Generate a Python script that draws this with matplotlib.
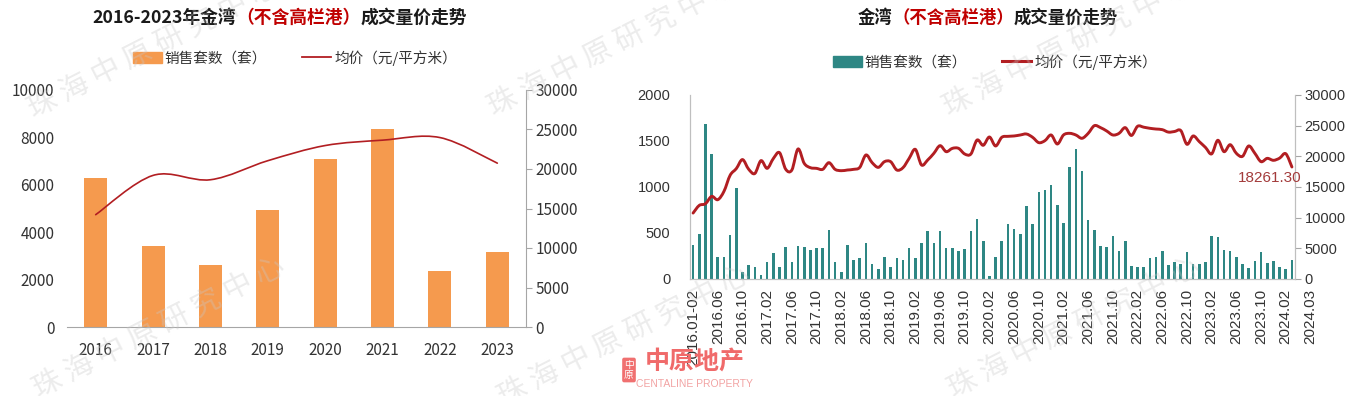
import matplotlib
matplotlib.use('Agg')
import matplotlib.pyplot as plt
import numpy as np
from matplotlib.path import Path
from matplotlib.patches import PathPatch, Patch
from matplotlib.lines import Line2D
from matplotlib.offsetbox import TextArea, HPacker, AnchoredOffsetbox

plt.rcParams['font.family'] = ['Liberation Sans', 'Noto Sans CJK SC', 'DejaVu Sans']
CJK = ['Noto Sans CJK SC', 'DejaVu Sans']

# ---- 年度数据 ----
years = ['2016', '2017', '2018', '2019', '2020', '2021', '2022', '2023']
annual_units = [6283, 3436, 2623, 4923, 7097, 8345, 2342, 3170]
annual_price = [14220, 19190, 18640, 21050, 22970, 23650, 23980, 20740]

# ---- 月度数据 ----
month_labels = ['2016.01-02'] + ['%d.%02d' % (2016 + (m - 1) // 12, (m - 1) % 12 + 1)
                                 for m in range(3, 8 * 12 + 4)]
month_units = [365, 485, 1685, 1355, 244, 244, 473, 990, 80, 153,
               135, 44, 189, 284, 127, 353, 182, 364, 346, 317,
               335, 335, 528, 182, 80, 375, 211, 226, 393, 164,
               109, 244, 135, 226, 211, 335, 226, 393, 517, 393,
               517, 335, 335, 302, 324, 517, 648, 408, 33, 244,
               408, 593, 546, 491, 790, 593, 946, 972, 1019, 801,
               612, 1212, 1412, 1176, 637, 535, 364, 346, 466, 302,
               411, 138, 135, 135, 226, 244, 302, 157, 189, 164,
               291, 164, 164, 189, 462, 455, 317, 302, 237, 164,
               120, 200, 291, 171, 200, 135, 109, 211]
month_price = [10750, 12000, 12270, 13470, 12930, 14290, 16910, 18000, 19470, 17900,
               17200, 19300, 18040, 19640, 20600, 17900, 17770, 21200, 18860, 18150,
               18040, 17880, 18970, 17880, 17660, 17770, 17880, 18200, 20220, 18970,
               18200, 19130, 19130, 17770, 18150, 19670, 21140, 18590, 19400, 20490,
               21740, 20760, 21300, 21300, 20380, 20380, 22660, 21800, 23150, 21690,
               23100, 23260, 23320, 23480, 23640, 23100, 22230, 22560, 23480, 22010,
               23480, 23750, 23480, 22940, 23750, 25000, 24680, 24130, 23480, 23750,
               24680, 23400, 24900, 24750, 24570, 24450, 24350, 23950, 24050, 24200,
               21960, 23320, 22390, 21450, 20400, 22620, 20760, 21900, 20490, 20000,
               21690, 20490, 19130, 19670, 19350, 19700, 20430, 18261.30]
tick_every = 4
extra_label = '2024.03'

ORANGE = '#F59A4E'
TEAL = '#2E8784'
RED = '#B21E22'


def smooth_line(ax, x, y, **kw):
    # 平滑曲线（Catmull-Rom 转 Bezier）
    x = np.asarray(x, float)
    y = np.asarray(y, float)
    n = len(x)
    verts = [(x[0], y[0])]
    codes = [Path.MOVETO]
    for i in range(n - 1):
        i0 = max(i - 1, 0)
        i3 = min(i + 2, n - 1)
        c1 = (x[i] + (x[i + 1] - x[i0]) / 6, y[i] + (y[i + 1] - y[i0]) / 6)
        c2 = (x[i + 1] - (x[i3] - x[i]) / 6, y[i + 1] - (y[i3] - y[i]) / 6)
        verts += [c1, c2, (x[i + 1], y[i + 1])]
        codes += [Path.CURVE4] * 3
    ax.add_patch(PathPatch(Path(verts, codes), fill=False, capstyle='round',
                           joinstyle='round', **kw))


def title(fig, xc, yc, parts, size):
    boxes = [TextArea(t, textprops=dict(color=c, fontsize=size, fontweight='bold', family=CJK))
             for t, c in parts]
    pack = HPacker(children=boxes, align='center', pad=0, sep=0)
    ab = AnchoredOffsetbox(loc='center', child=pack, pad=0, frameon=False,
                           bbox_to_anchor=(xc / W, 1 - yc / H), bbox_transform=fig.transFigure)
    fig.add_artist(ab)


W, H = 1365, 396
fig = plt.figure(figsize=(W / 100, H / 100), dpi=100)

# ================= 左图 =================
ax = fig.add_axes([67 / W, 1 - 327 / H, 459 / W, 237 / H])
ax2 = ax.twinx()
x = np.arange(len(years))
ax.bar(x, annual_units, width=0.4, color=ORANGE, zorder=2)
smooth_line(ax2, x, annual_price, color=RED, lw=1.2, zorder=3)
ax.set_xlim(-0.5, len(years) - 0.5)
ax.set_ylim(0, 10000)
ax.set_yticks(range(0, 10001, 2000))
ax2.set_ylim(0, 30000)
ax2.set_yticks(range(0, 30001, 5000))
ax.set_xticks(x)
ax.set_xticklabels(years)
for a in (ax, ax2):
    for s in a.spines.values():
        s.set_visible(False)
ax.spines['bottom'].set_visible(True)
ax.spines['bottom'].set_color('#A6A6A6')
ax2.spines['right'].set_visible(True)
ax2.spines['right'].set_color('#A6A6A6')
ax.tick_params(axis='y', length=0, pad=9, labelsize=11, labelcolor='#333333')
ax.tick_params(axis='x', length=0, pad=11, labelsize=11, labelcolor='#333333')
ax2.tick_params(axis='y', length=4, color='#A6A6A6', pad=3, labelsize=11, labelcolor='#333333')
for lab in ax.get_xticklabels() + ax.get_yticklabels() + ax2.get_yticklabels():
    lab.set_family(CJK)

title(fig, 280, 18, [('2016-2023年金湾', '#1a1a1a'), ('（不含高栏港）', '#C00000'),
                     ('成交量价走势', '#1a1a1a')], 12.8)
fig.legend([Patch(color=ORANGE), Line2D([], [], color=RED, lw=1.3)],
           ['销售套数（套）', '均价（元/平方米）'], loc='center',
           bbox_to_anchor=(295 / W, 1 - 58 / H), ncol=2, frameon=False,
           prop=dict(family=CJK, size=10.5), handlelength=2.0, handleheight=0.8,
           handletextpad=0.2, columnspacing=2.4, labelcolor='#333333')

# ================= 右图 =================
bx = fig.add_axes([690 / W, 1 - 279 / H, 605 / W, 184 / H])
bx2 = bx.twinx()
xm = np.arange(len(month_units))
bx.bar(xm, month_units, width=0.42, color=TEAL, zorder=2)
smooth_line(bx2, xm, month_price, color=RED, lw=2.1, zorder=3)
bx.set_xlim(-0.5, len(month_units) - 0.5)
bx.set_ylim(0, 2000)
bx.set_yticks(range(0, 2001, 500))
bx2.set_ylim(0, 30000)
bx2.set_yticks(range(0, 30001, 5000))
ticks = list(range(0, len(month_units), tick_every))
bx.set_xticks(ticks)
bx.set_xticklabels([month_labels[i] for i in ticks], rotation=90)
for a in (bx, bx2):
    a.spines['top'].set_visible(False)
    for s in ('left', 'right', 'bottom'):
        a.spines[s].set_color('#BFBFBF')
bx.tick_params(axis='y', length=0, pad=14, labelsize=10.5, labelcolor='#333333')
bx.tick_params(axis='x', length=0, pad=7, labelsize=11, labelcolor='#333333')
bx2.tick_params(axis='y', length=4, color='#A6A6A6', pad=3, labelsize=10.5, labelcolor='#333333')
trans, va, ha = bx.get_xaxis_text1_transform(7)
bx.text(ticks[-1] + tick_every, 0, extra_label, transform=trans, rotation=90,
        va='top', ha='center', fontsize=11, color='#333333', clip_on=False)
bx2.annotate('%.2f' % month_price[-1], xy=(xm[-1], month_price[-1]), xytext=(-16, -8),
             textcoords='offset points', ha='center', va='center', fontsize=11,
             color='#A33B3B')

title(fig, 988, 18, [('金湾', '#1a1a1a'), ('（不含高栏港）', '#C00000'),
                     ('成交量价走势', '#1a1a1a')], 12.5)
fig.legend([Patch(color=TEAL), Line2D([], [], color=RED, lw=2.2)],
           ['销售套数（套）', '均价（元/平方米）'], loc='center',
           bbox_to_anchor=(995 / W, 1 - 62 / H), ncol=2, frameon=False,
           prop=dict(family=CJK, size=10.5), handlelength=2.0, handleheight=0.8,
           handletextpad=0.2, columnspacing=2.4, labelcolor='#333333')

# ---- 水印与logo ----
wm = '珠 海 中 原 研 究 中 心'
for px, py in [(30, 112), (490, 110), (945, 110), (35, 392), (500, 400), (950, 392)]:
    fig.text(px / W, 1 - py / H, wm, rotation=27, rotation_mode='anchor', ha='left',
             va='center', fontsize=21, color='#c8c8c8', alpha=0.35, family=CJK, zorder=10)

fig.text(629 / W, 1 - 370 / H, '中\n原', fontsize=7, color='white', ha='center', va='center',
         family=CJK, linespacing=1.1,
         bbox=dict(boxstyle='round,pad=0.2', fc='#F07070', ec='none'), zorder=11)
fig.text(695 / W, 1 - 362 / H, '中原地产', fontsize=18, fontweight='bold', color='#F06A6A',
         ha='center', va='center', family=CJK, zorder=11)
fig.text(694 / W, 1 - 384 / H, 'CENTALINE PROPERTY', fontsize=7.5, color='#F2A3A3',
         ha='center', va='center', zorder=11)

fig.savefig('out.png', dpi=100, facecolor='white')
